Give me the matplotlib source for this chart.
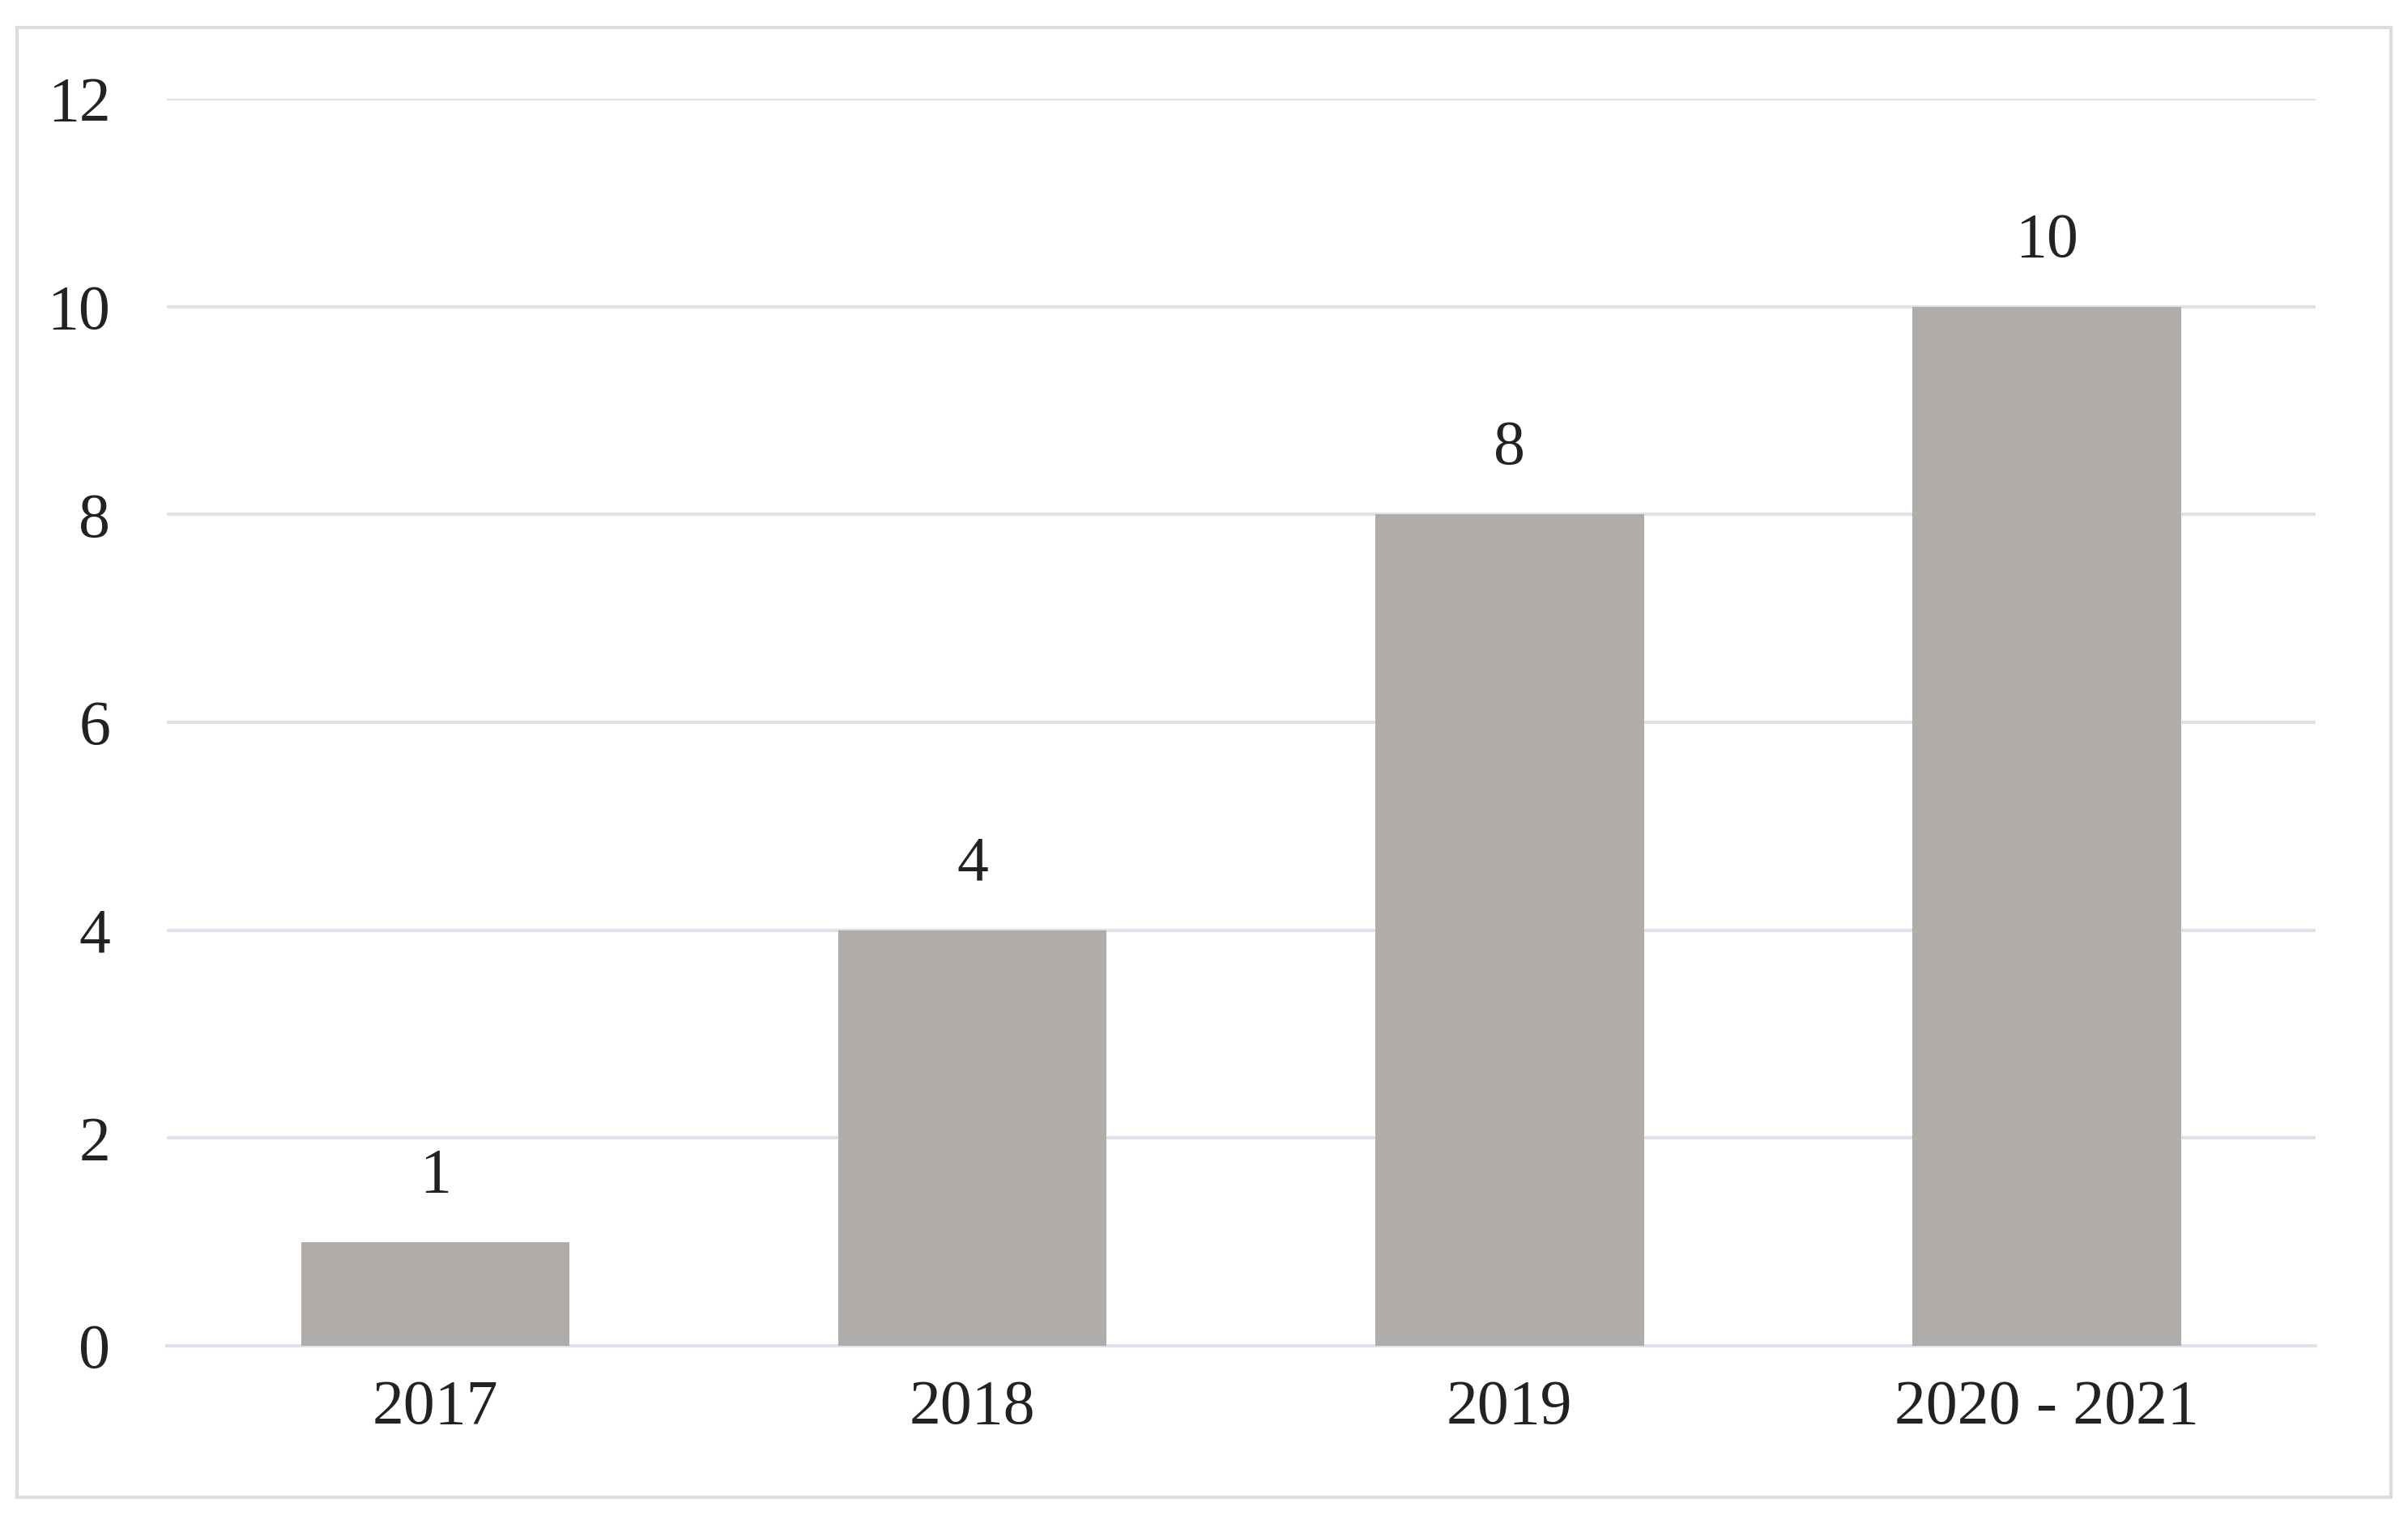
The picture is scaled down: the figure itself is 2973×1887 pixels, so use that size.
import matplotlib.pyplot as plt
import matplotlib.patches as patches

categories = ['2017', '2018', '2019', '2020 - 2021']
values = [1, 4, 8, 10]

plt.rcParams['font.family'] = ['Liberation Serif', 'DejaVu Serif']

fig = plt.figure(figsize=(29.73, 18.87), dpi=100)
fig.patch.set_facecolor('white')

# outer frame
frame = patches.Rectangle((0.007, 0.02), 0.986, 0.962, transform=fig.transFigure,
                          fill=False, edgecolor='#d9dde2', linewidth=3)
fig.patches.append(frame)

ax = fig.add_axes([0.0692, 0.1192, 0.8923, 0.8162])
x = list(range(len(categories)))
ax.bar(x, values, width=0.5, color='#b0aca9', zorder=3)

for xi, v in zip(x, values):
    ax.text(xi, v + 0.35, str(v), ha='center', va='bottom', fontsize=56, color='#222222')

ax.set_xlim(-0.5, len(categories) - 0.5)
ax.set_ylim(0, 12)
ax.set_yticks(range(0, 13, 2))
ax.set_xticks(x)
ax.set_xticklabels(categories)
ax.tick_params(axis='both', length=0, labelsize=56, colors='#222222')
ax.tick_params(axis='y', pad=50)
ax.tick_params(axis='x', pad=30)
ax.yaxis.grid(True, color='#dce3ea', linewidth=3, zorder=0)
for s in ['top', 'right', 'left']:
    ax.spines[s].set_visible(False)
ax.spines['bottom'].set_color('#dce3ea')
ax.spines['bottom'].set_linewidth(3)

fig.savefig('out.png', dpi=100, facecolor='white')
